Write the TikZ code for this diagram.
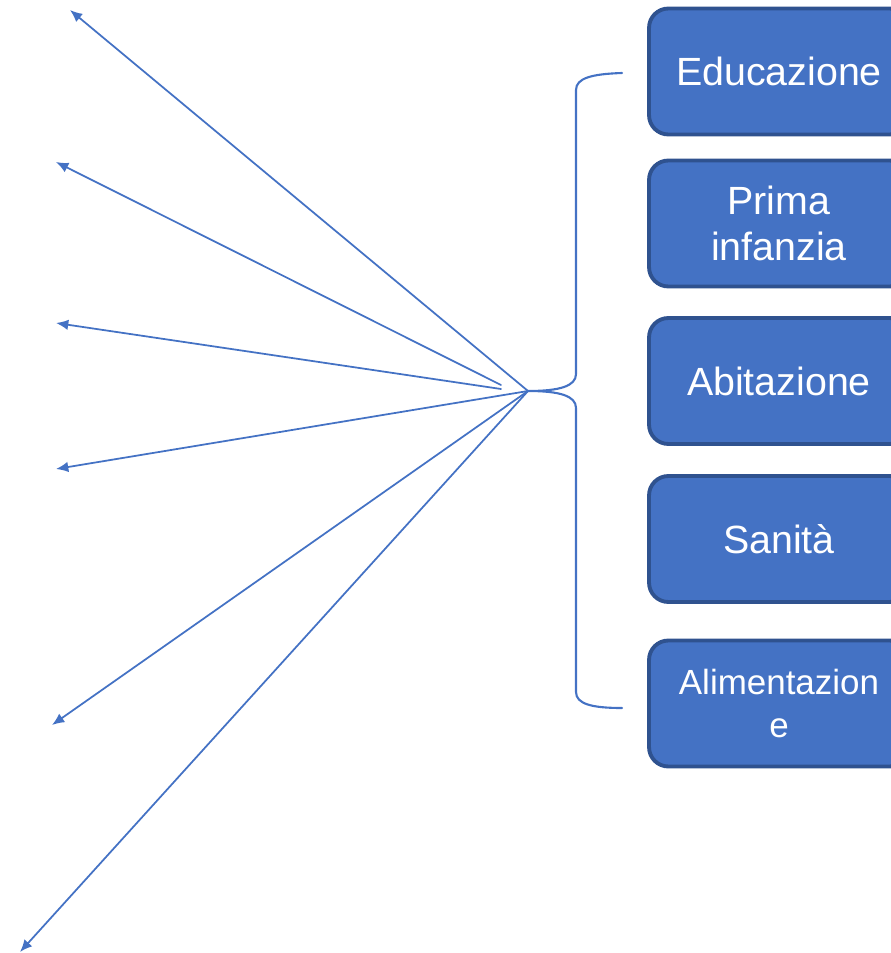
\documentclass[tikz,border=0pt]{standalone}
\usepackage{fontspec}
\setmainfont{Liberation Sans}
\usetikzlibrary{arrows.meta}
\definecolor{boxblue}{HTML}{4472C4}
\definecolor{boxedge}{HTML}{2F528F}

\begin{document}
\begin{tikzpicture}[x=0.02cm,y=-0.02cm,line cap=round,line join=round,
    area/.style={draw=boxedge,line width=2.2pt,fill=boxblue,rounded corners=11pt,
      minimum width=5.2cm,minimum height=2.52cm,text=white,align=center,
      font=\fontsize{22.4}{26.2}\selectfont},
    ray/.style={boxblue,line width=1pt,-{Latex[length=7pt,width=6pt]}}]
        \useasboundingbox (0,0) rectangle (890,953);
        \node[area] (edu) at (779,71.5) {Educazione};
        \node[area] (inf) at (779,223.5) {Prima\\infanzia};
        \node[area] (abi) at (779,381) {Abitazione};
        \node[area] (san) at (779,539) {Sanità};
        \node[area,font=\fontsize{19.9}{24.5}\selectfont] (ali) at (779,703.5) {Alimentazion\\e};

        \coordinate (hub) at (528,391);
        \coordinate (bt) at (622,73);
        \coordinate (bb) at (622,708);
        \coordinate (t2) at (501,385);
        \coordinate (t3) at (501,389);
        \draw (70,10) coordinate (e1)
          (56,162) coordinate (e2)
          (56,323) coordinate (e3)
          (56,469) coordinate (e4)
          (52,725) coordinate (e5)
          (20,952) coordinate (e6);

        \draw[boxblue,line width=1.2pt] (bt) .. controls (592,74) and (576,78) .. (576,90) -- (576,374)
          .. controls (576,386) and (560,391) .. (hub)
          .. controls (560,391) and (576,396) .. (576,408) -- (576,692)
          .. controls (576,704) and (592,708) .. (bb);

        \draw[ray] (hub)--(e1);
        \draw[ray] (t2)--(e2);
        \draw[ray] (t3)--(e3);
        \draw[ray] (hub)--(e4);
        \draw[ray] (hub)--(e5);
        \draw[ray] (hub)--(e6);
      \end{tikzpicture}
\end{document}
